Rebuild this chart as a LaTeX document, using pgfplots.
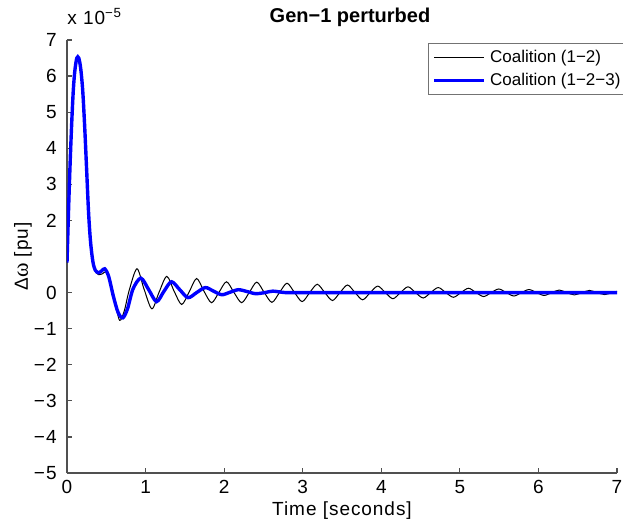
\documentclass[border=0pt]{standalone}
\usepackage{fontspec}
\setmainfont{Liberation Sans}
\newfontfamily\axfont[LetterSpace=5]{Liberation Sans}
\newfontfamily\serifw{Liberation Serif}
\usepackage{pgfplots}
\pgfplotsset{compat=1.18}
\usetikzlibrary{calc}
\definecolor{axgray}{HTML}{505050}

\begin{document}
\begin{tikzpicture}
\fontsize{9.5}{11}\selectfont
\begin{axis}[name=ax,
  scale only axis, width=275pt, height=216.5pt,
  xmin=0, xmax=7, ymin=-5, ymax=7,
  axis x line*=bottom, axis y line*=left,
  axis line style={axgray, line width=0.6pt},
  tick style={axgray, line width=0.6pt},
  tick align=inside, major tick length=2.5pt,
  xtick={0,1,2,3,4,5,6,7}, xticklabels={0,1,2,3,4,5,6,7},
  ytick={-5,-4,-3,-2,-1,0,2,3,4,5,6,7},
  yticklabels={−5,−4,−3,−2,−1,0,2,3,4,5,6,7},
  xticklabel style={anchor=base, yshift=-10pt, inner sep=0pt},
  yticklabel style={anchor=east, xshift=-5pt, inner sep=0pt},
  tick label style={font=\axfont\fontsize{9.5}{11}\selectfont},
  xlabel={Time [seconds]},
  xlabel style={font=\axfont\fontsize{9.5}{11}\selectfont, at={(axis description cs:0.5,0)}, anchor=base, yshift=-21pt},
  ylabel={Δ{\serifw\fontsize{11}{12}\selectfont ω} [pu]},
  ylabel style={font=\axfont\fontsize{9.5}{11}\selectfont, at={(axis description cs:-0.08,0.5)}, anchor=center},
  legend style={at={(1,1)}, anchor=north east, xshift=6pt, yshift=-1.5pt,
    draw=black!55, line width=0.5pt, fill=white,
    font=\fontsize{8.5}{10}\selectfont, inner xsep=2pt, inner ysep=1.2pt,
    row sep=0pt},
  legend cell align=left,
  legend image code/.code={\draw[#1] (0pt,0pt) -- (25pt,0pt);},
]
\addplot[black, line width=0.5pt, smooth] coordinates {
(0,0.83)(0.02,2.3)(0.04,3.6)(0.06,4.7)(0.08,5.6)(0.10,6.15)(0.125,6.5)(0.15,6.5)
(0.175,6.2)(0.20,5.6)(0.225,4.6)(0.25,3.4)(0.275,2.2)(0.30,1.4)(0.33,0.85)(0.36,0.6)
(0.40,0.5)(0.45,0.52)(0.50,0.58)(0.55,0.35)(0.61,-0.25)(0.67,-0.77)(0.73,-0.5)
(0.79,0.05)(0.89,0.66)(0.98,0.1)(1.08,-0.45)(1.17,0)(1.27,0.45)(1.365,0.03)
(1.46,-0.33)(1.555,0.02)(1.65,0.39)(1.745,0.03)(1.84,-0.28)(1.935,0.01)
(2.03,0.30)(2.126,0)(2.223,-0.28)(2.319,0)
(2.415,0.29)(2.511,0)(2.608,-0.27)(2.704,0)
(2.80,0.26)(2.896,0)(2.993,-0.25)(3.089,0)
(3.185,0.23)(3.281,0)(3.378,-0.22)(3.474,0)
(3.57,0.21)(3.666,0)(3.763,-0.20)(3.859,0)
(3.955,0.18)(4.051,0)(4.148,-0.17)(4.244,0)
(4.34,0.16)(4.436,0)(4.533,-0.15)(4.629,0)
(4.725,0.14)(4.821,0)(4.918,-0.13)(5.014,0)
(5.11,0.12)(5.206,0)(5.303,-0.11)(5.399,0)
(5.495,0.10)(5.591,0)(5.688,-0.095)(5.784,0)
(5.88,0.085)(5.976,0)(6.073,-0.08)(6.169,0)
(6.265,0.07)(6.361,0)(6.458,-0.065)(6.554,0)
(6.65,0.06)(6.746,0)(6.843,-0.055)(6.939,0)(7.0,0.035)
};
\addlegendentry{Coalition (1−2)}
\addplot[blue, line width=1.7pt, smooth] coordinates {
(0,0.83)(0.02,2.3)(0.04,3.6)(0.06,4.7)(0.08,5.6)(0.10,6.15)(0.125,6.5)(0.15,6.5)
(0.175,6.2)(0.20,5.6)(0.225,4.6)(0.25,3.4)(0.275,2.2)(0.30,1.4)(0.33,0.85)(0.36,0.62)
(0.40,0.55)(0.44,0.6)(0.48,0.66)(0.53,0.45)(0.59,-0.1)(0.65,-0.55)(0.71,-0.70)
(0.77,-0.45)(0.84,0.1)(0.94,0.40)(1.04,0.08)(1.14,-0.25)(1.235,0.04)(1.33,0.30)
(1.435,0.08)(1.54,-0.14)(1.65,0.0)(1.76,0.14)(1.865,0.04)(1.97,-0.06)(2.075,0.01)
(2.18,0.08)(2.29,0.03)(2.40,-0.03)(2.52,0.0)(2.62,0.04)(2.78,0.0)(3.0,0.0)
(3.5,0.0)(4.0,0.0)(5.0,0.0)(6.0,0.0)(7.0,0.0)
};
\addlegendentry{Coalition (1−2−3)}
\end{axis}
\node[anchor=base west, inner sep=0pt, font=\axfont\fontsize{9.5}{11}\selectfont] at ($(ax.north west)+(0pt,7.5pt)$) {x 10\textsuperscript{−5}};
\node[anchor=base, inner sep=0pt, font=\fontsize{10}{12}\selectfont\bfseries] at ($(ax.north)+(4pt,8.5pt)$) {Gen−1 perturbed};
\pgfresetboundingbox
\path[use as bounding box] ($(ax.south west)+(-33.5pt,-24pt)$) rectangle ($(ax.north east)+(3pt,20pt)$);
\end{tikzpicture}
\end{document}
